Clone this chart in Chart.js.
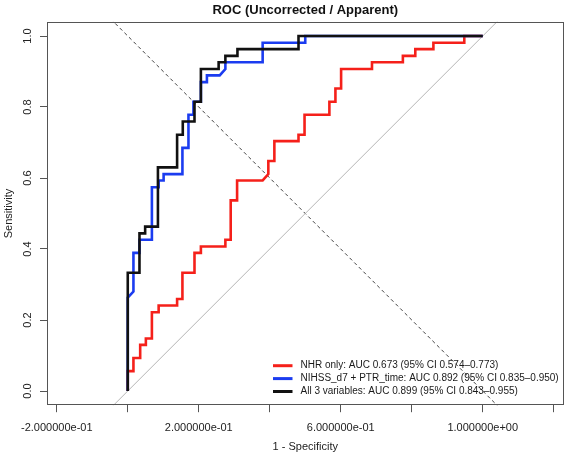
<!DOCTYPE html>
<html>
<head>
<meta charset="utf-8">
<script src="https://cdn.jsdelivr.net/npm/chart.js@4.4.1/dist/chart.umd.min.js"></script>
<style>
  body { margin: 0; background: #fff; }
  #wrap { width: 566px; height: 454px; }
</style>
</head>
<body>
<div id="wrap"><canvas id="roc" width="566" height="454"></canvas></div>
<script>
const titleText = "ROC (Uncorrected / Apparent)";
const xTitle = "1 - Specificity";
const yTitle = "Sensitivity";

const xTicks = [-0.2, 0, 0.2, 0.4, 0.6, 0.8, 1.0, 1.2];
const xTickLabels = ["-2.000000e-01", "", "2.000000e-01", "", "6.000000e-01", "", "1.000000e+00", ""];
const yTicks = [0, 0.2, 0.4, 0.6, 0.8, 1.0];
const yTickLabels = ["0.0", "0.2", "0.4", "0.6", "0.8", "1.0"];

const seriesNames = [
  "NHR only: AUC 0.673 (95% CI 0.574\u20130.773)",
  "NIHSS_d7 + PTR_time: AUC 0.892 (95% CI 0.835\u20130.950)",
  "All 3 variables: AUC 0.899 (95% CI 0.843\u20130.955)"
];
const seriesColors = ["#f5201a", "#1b3cf0", "#111111"];

// NHR only
const nhrFpr = [0, 0, 0.016, 0.016, 0.035, 0.035, 0.051, 0.051, 0.068, 0.068, 0.087, 0.087, 0.139, 0.139,
  0.154, 0.154, 0.188, 0.188, 0.206, 0.206, 0.275, 0.275, 0.290, 0.290, 0.308, 0.308, 0.380, 0.396,
  0.396, 0.413, 0.413, 0.481, 0.481, 0.498, 0.498, 0.568, 0.568, 0.585, 0.585, 0.601, 0.601, 0.688,
  0.688, 0.775, 0.775, 0.810, 0.810, 0.861, 0.861, 0.948, 0.948, 1.0];
const nhrTpr = [0, 0.056, 0.056, 0.093, 0.093, 0.130, 0.130, 0.148, 0.148, 0.222, 0.222, 0.241, 0.241, 0.259,
  0.259, 0.333, 0.333, 0.389, 0.389, 0.407, 0.407, 0.426, 0.426, 0.537, 0.537, 0.593, 0.593, 0.611,
  0.648, 0.648, 0.704, 0.704, 0.722, 0.722, 0.778, 0.778, 0.815, 0.815, 0.852, 0.852, 0.907, 0.907,
  0.926, 0.926, 0.944, 0.944, 0.963, 0.963, 0.981, 0.981, 1.0, 1.0];

// NIHSS_d7 + PTR_time
const nihssFpr = [0, 0, 0.016, 0.016, 0.033, 0.033, 0.068, 0.068, 0.087, 0.087, 0.101, 0.101, 0.154, 0.154,
  0.171, 0.171, 0.185, 0.185, 0.206, 0.206, 0.223, 0.223, 0.259, 0.275, 0.275, 0.380, 0.380, 0.500, 0.500, 1.0];
const nihssTpr = [0, 0.263, 0.280, 0.389, 0.389, 0.426, 0.426, 0.574, 0.574, 0.593, 0.593, 0.611, 0.611, 0.685,
  0.685, 0.778, 0.778, 0.815, 0.815, 0.870, 0.870, 0.889, 0.889, 0.907, 0.926, 0.926, 0.981, 0.981, 1.0, 1.0];

// All 3 variables
const allFpr = [0, 0, 0.033, 0.033, 0.049, 0.049, 0.085, 0.085, 0.139, 0.139, 0.155, 0.155, 0.188, 0.188,
  0.206, 0.206, 0.256, 0.256, 0.275, 0.275, 0.309, 0.309, 0.481, 0.481, 1.0];
const allTpr = [0, 0.333, 0.333, 0.444, 0.444, 0.463, 0.463, 0.630, 0.630, 0.722, 0.722, 0.759, 0.759, 0.815,
  0.815, 0.907, 0.907, 0.926, 0.926, 0.944, 0.944, 0.963, 0.963, 1.0, 1.0];

// reference lines: y = x (grey) and y = 1 - x (dashed)
const chanceX = [-0.1, 1.1];
const chanceY = [-0.1, 1.1];
const crossX = [-0.1, 1.1];
const crossY = [1.1, -0.1];

function toPoints(xs, ys) {
  return xs.map((x, i) => ({ x: x, y: ys[i] }));
}

const FONT = '"Liberation Sans", Arial, Helvetica, sans-serif';
Chart.defaults.font.family = FONT;
Chart.defaults.color = "#222";

const boxPlugin = {
  id: "rBox",
  afterDraw(chart) {
    const { ctx, chartArea: a } = chart;
    ctx.save();
    ctx.strokeStyle = "#555";
    ctx.lineWidth = 1;
    ctx.strokeRect(Math.round(a.left) + 0.5, Math.round(a.top) + 0.5,
      Math.round(a.right - a.left) - 1, Math.round(a.bottom - a.top) - 1);
    // title centred over the plot region
    ctx.fillStyle = "#111";
    ctx.font = "bold 13px " + FONT;
    ctx.textAlign = "center";
    ctx.textBaseline = "middle";
    ctx.fillText(titleText, (a.left + a.right) / 2, 10);
    ctx.restore();
  }
};

const legendPlugin = {
  id: "rLegend",
  afterDraw(chart) {
    const { ctx, chartArea: a } = chart;
    ctx.save();
    ctx.font = "10px " + FONT;
    ctx.textAlign = "left";
    ctx.textBaseline = "middle";
    const x0 = a.left + 226;
    seriesNames.forEach((name, i) => {
      const y = a.bottom - 39.5 + i * 12.9;
      ctx.strokeStyle = seriesColors[i];
      ctx.lineWidth = 3;
      ctx.beginPath();
      ctx.moveTo(x0, y);
      ctx.lineTo(x0 + 19.5, y);
      ctx.stroke();
      ctx.fillStyle = "#1a1a1a";
      ctx.fillText(name, x0 + 27.5, y);
    });
    ctx.restore();
  }
};

const ctx = document.getElementById("roc").getContext("2d");
const myChart = new Chart(ctx, {
  type: "scatter",
  data: {
    datasets: [
      {
        label: seriesNames[2],
        data: toPoints(allFpr, allTpr),
        borderColor: seriesColors[2],
        borderWidth: 2.6,
        showLine: true,
        pointRadius: 0,
        order: 0,
      },
      {
        label: seriesNames[1],
        data: toPoints(nihssFpr, nihssTpr),
        borderColor: seriesColors[1],
        borderWidth: 2.6,
        showLine: true,
        pointRadius: 0,
        order: 1,
      },
      {
        label: seriesNames[0],
        data: toPoints(nhrFpr, nhrTpr),
        borderColor: seriesColors[0],
        borderWidth: 2.6,
        showLine: true,
        pointRadius: 0,
        order: 2,
      },
      {
        label: "chance",
        data: toPoints(chanceX, chanceY),
        borderColor: "#b5b5b5",
        borderWidth: 1,
        showLine: true,
        pointRadius: 0,
        order: 3,
      },
      {
        label: "cross",
        data: toPoints(crossX, crossY),
        borderColor: "#444",
        borderWidth: 1,
        borderDash: [3.5, 3],
        showLine: true,
        pointRadius: 0,
        order: 4,
      },
    ],
  },
  options: {
    responsive: false,
    animation: false,
    layout: { padding: { top: 21.8, right: 2.5, left: 0, bottom: 0 } },
    plugins: {
      legend: { display: false },
      tooltip: { enabled: false },
      title: { display: false },
    },
    scales: {
      x: {
        type: "linear",
        min: -0.2275,
        max: 1.2275,
        afterBuildTicks: (scale) => { scale.ticks = xTicks.map(v => ({ value: v })); },
        afterFit: (scale) => { scale.height = 48.8; },
        ticks: {
          autoSkip: false,
          maxRotation: 0,
          padding: 9.5,
          font: { size: 11 },
          color: "#222",
          callback: (value, index) => xTickLabels[index],
        },
        grid: { display: true, drawOnChartArea: false, drawTicks: true, tickLength: 7, color: "#555" },
        border: { display: false },
        title: { display: true, text: xTitle, font: { size: 11 }, color: "#222", padding: { top: 0, bottom: 0 } },
      },
      y: {
        type: "linear",
        min: -0.04,
        max: 1.04,
        afterBuildTicks: (scale) => { scale.ticks = yTicks.map(v => ({ value: v })); },
        afterFit: (scale) => { scale.width = 47; },
        ticks: {
          autoSkip: false,
          minRotation: 90,
          maxRotation: 90,
          crossAlign: "center",
          padding: 4.4,
          font: { size: 11 },
          color: "#222",
          callback: (value, index) => yTickLabels[index],
        },
        grid: { display: true, drawOnChartArea: false, drawTicks: true, tickLength: 7, color: "#555" },
        border: { display: false },
        title: { display: true, text: yTitle, font: { size: 11 }, color: "#222", padding: { top: 2, bottom: 0 } },
      },
    },
  },
  plugins: [boxPlugin, legendPlugin],
});
</script>
</body>
</html>
